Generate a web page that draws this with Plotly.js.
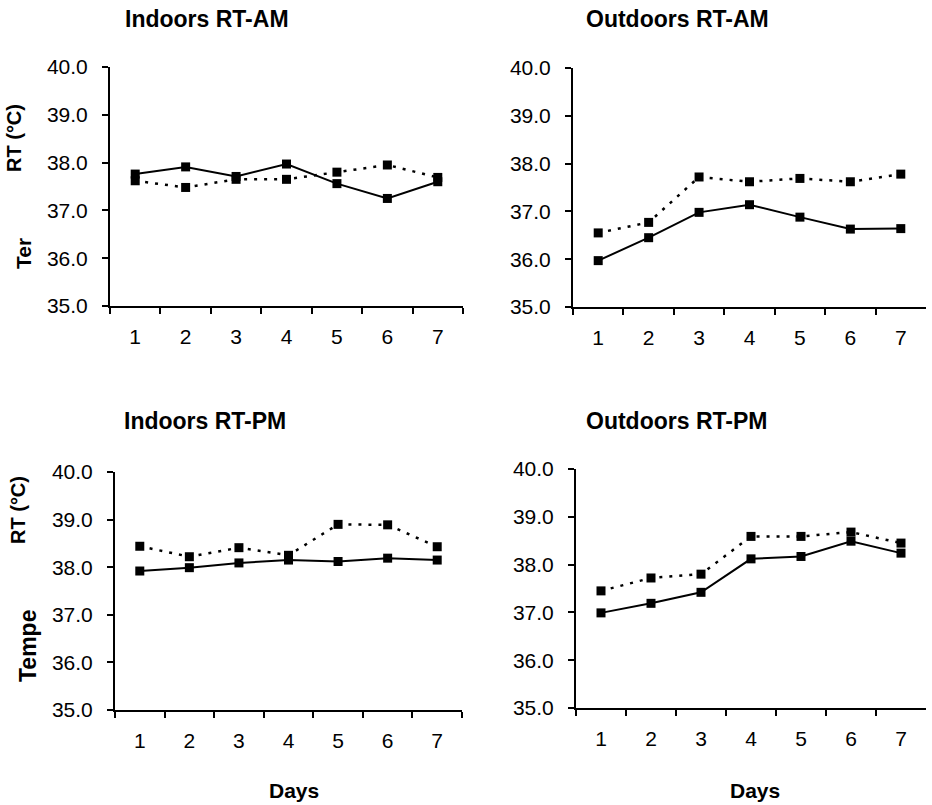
<!DOCTYPE html>
<html>
<head>
<meta charset="utf-8">
<script src="https://cdn.plot.ly/plotly-3.0.1.min.js"></script>
<style>html,body{margin:0;padding:0;background:#fff;}#chart{width:932px;height:805px;}</style>
</head>
<body>
<div id="chart"></div>
<script>
// ---- data ----
const days = ["1", "2", "3", "4", "5", "6", "7"];
const panelTitles = ["Indoors RT-AM", "Outdoors RT-AM", "Indoors RT-PM", "Outdoors RT-PM"];
const yTickVals = [35, 36, 37, 38, 39, 40];
// solid line series
const indoorAM_solid  = [37.76, 37.91, 37.71, 37.97, 37.56, 37.25, 37.60];
const outdoorAM_solid = [35.97, 36.45, 36.98, 37.14, 36.88, 36.63, 36.64];
const indoorPM_solid  = [37.92, 37.99, 38.09, 38.15, 38.12, 38.19, 38.15];
const outdoorPM_solid = [36.99, 37.19, 37.42, 38.12, 38.17, 38.49, 38.24];
// dotted line series
const indoorAM_dot  = [37.62, 37.48, 37.65, 37.65, 37.80, 37.95, 37.69];
const outdoorAM_dot = [36.55, 36.77, 37.72, 37.62, 37.69, 37.62, 37.78];
const indoorPM_dot  = [38.44, 38.22, 38.41, 38.25, 38.90, 38.89, 38.43];
const outdoorPM_dot = [37.45, 37.72, 37.80, 38.59, 38.59, 38.68, 38.45];

const W = 932, H = 805;
const FONT = "Liberation Sans, Arial, sans-serif";
// panel pixel boxes [x0, x1, yTop, yBottom]
const boxes = [
  [110, 463, 67, 306],
  [573, 926, 68, 307],
  [115, 462, 472, 710],
  [576, 926, 469, 708]
];
const solids = [indoorAM_solid, outdoorAM_solid, indoorPM_solid, outdoorPM_solid];
const dots = [indoorAM_dot, outdoorAM_dot, indoorPM_dot, outdoorPM_dot];

const traces = [];
const layout = {
  width: W, height: H,
  margin: {l: 0, r: 0, t: 0, b: 0},
  paper_bgcolor: "#fff", plot_bgcolor: "#fff",
  showlegend: false,
  font: {family: FONT, color: "#000"},
  annotations: []
};

boxes.forEach((b, i) => {
  const n = i + 1;
  const xa = n === 1 ? "x" : "x" + n;
  const ya = n === 1 ? "y" : "y" + n;
  const xk = n === 1 ? "xaxis" : "xaxis" + n;
  const yk = n === 1 ? "yaxis" : "yaxis" + n;
  layout[xk] = {
    domain: [b[0] / W, b[1] / W],
    anchor: ya,
    type: "category",
    range: [-0.5, 6.5],
    tickson: "boundaries",
    ticks: "outside", ticklen: 6, tickwidth: 2, tickcolor: "#000",
    showline: true, linecolor: "#000", linewidth: 2,
    showgrid: false, zeroline: false,
    tickfont: {family: FONT, size: 21, color: "#000"},
    ticklabelstandoff: 11
  };
  layout[yk] = {
    domain: [1 - b[3] / H, 1 - b[2] / H],
    anchor: xa,
    range: [35, 40],
    tickvals: yTickVals,
    tickformat: ".1f",
    ticks: "outside", ticklen: 6, tickwidth: 2, tickcolor: "#000",
    showline: true, linecolor: "#000", linewidth: 2,
    showgrid: false, zeroline: false,
    tickfont: {family: FONT, size: 21, color: "#000"},
    ticklabelstandoff: 10
  };
  traces.push({
    x: days, y: dots[i], xaxis: xa, yaxis: ya, type: "scatter", mode: "lines+markers",
    line: {color: "#000", width: 2.5, dash: "3px,7px"},
    marker: {symbol: "square", size: 9, color: "#000"}
  });
  traces.push({
    x: days, y: solids[i], xaxis: xa, yaxis: ya, type: "scatter", mode: "lines+markers",
    line: {color: "#000", width: 2},
    marker: {symbol: "square", size: 9, color: "#000"}
  });
});

function ann(text, x, y, size, angle) {
  layout.annotations.push({
    text: text, x: x / W, y: 1 - y / H, xref: "paper", yref: "paper",
    xanchor: "center", yanchor: "middle", showarrow: false,
    textangle: angle || 0,
    font: {family: FONT, size: size, color: "#000", weight: "bold"}
  });
}
// panel titles
ann("<b>" + panelTitles[0] + "</b>", 207, 19, 23);
ann("<b>" + panelTitles[1] + "</b>", 677, 19, 23);
ann("<b>" + panelTitles[2] + "</b>", 205, 421, 23);
ann("<b>" + panelTitles[3] + "</b>", 676, 421, 23);
// y-axis titles
ann("<b>RT (°C)</b>", 14, 138, 20, -90);
ann("<b>Ter</b>", 23, 254, 21, -90);
ann("<b>RT (°C)</b>", 18, 510, 20, -90);
ann("<b>Tempe</b>", 28, 646, 23, -90);
// x-axis titles
ann("<b>Days</b>", 294, 790, 21);
ann("<b>Days</b>", 755, 790, 21);

Plotly.newPlot("chart", traces, layout, {displayModeBar: false, staticPlot: true});
</script>
</body>
</html>
